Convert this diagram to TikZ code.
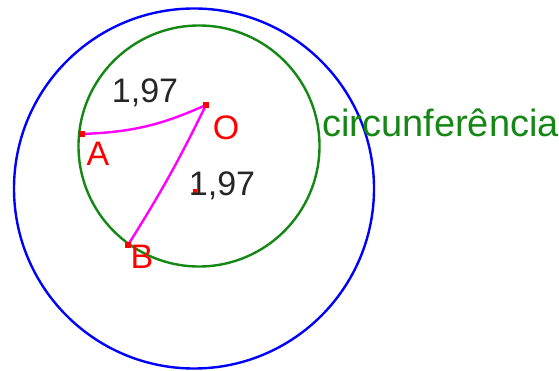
\documentclass[tikz,border=0pt]{standalone}
\usepackage{fontspec}
\setmainfont{Liberation Sans}
\definecolor{verde}{RGB}{20,135,20}
\definecolor{rosa}{RGB}{255,0,255}
\begin{document}
\begin{tikzpicture}[x=1pt,y=-1pt,
    every node/.style={font=\fontsize{34}{40}\selectfont},
    ponto/.style={rectangle,fill=red,inner sep=0pt,minimum size=6pt},
    rotulo/.style={red,anchor=base}]
    \useasboundingbox (0,0) rectangle (559,371);
    \draw[blue,line width=2.4pt] (194,188.5) circle (180);
    \draw[verde,line width=2.4pt] (199,146) circle (120.5);
    \coordinate (A) at (82,134);
    \coordinate (O) at (206,105);
    \coordinate (B) at (128,245);
    \draw[rosa,line width=2.4pt] (A) to[bend right=11] (O) to[bend left=3] (B);
    \node[ponto] (pA) at (A) {};
    \node[ponto] (pO) at (O) {};
    \node[ponto] (pB) at (B) {};
    \node[ponto,minimum size=4pt] (pC) at (195,191) {};
    \node[rotulo] (lA) at (98,166) {A};
    \node[rotulo] (lO) at (226,140) {O};
    \node[rotulo] (lB) at (142,268) {B};
    \node[anchor=base,black!85] (d1) at (145,103) {1,97};
    \node[anchor=base,black!85] (d2) at (222,196) {1,97};
    \node[verde,anchor=base west,inner sep=0pt,font=\fontsize{38}{44}\selectfont]
        (nome) at (322,137) {circunferência};
\end{tikzpicture}
\end{document}
